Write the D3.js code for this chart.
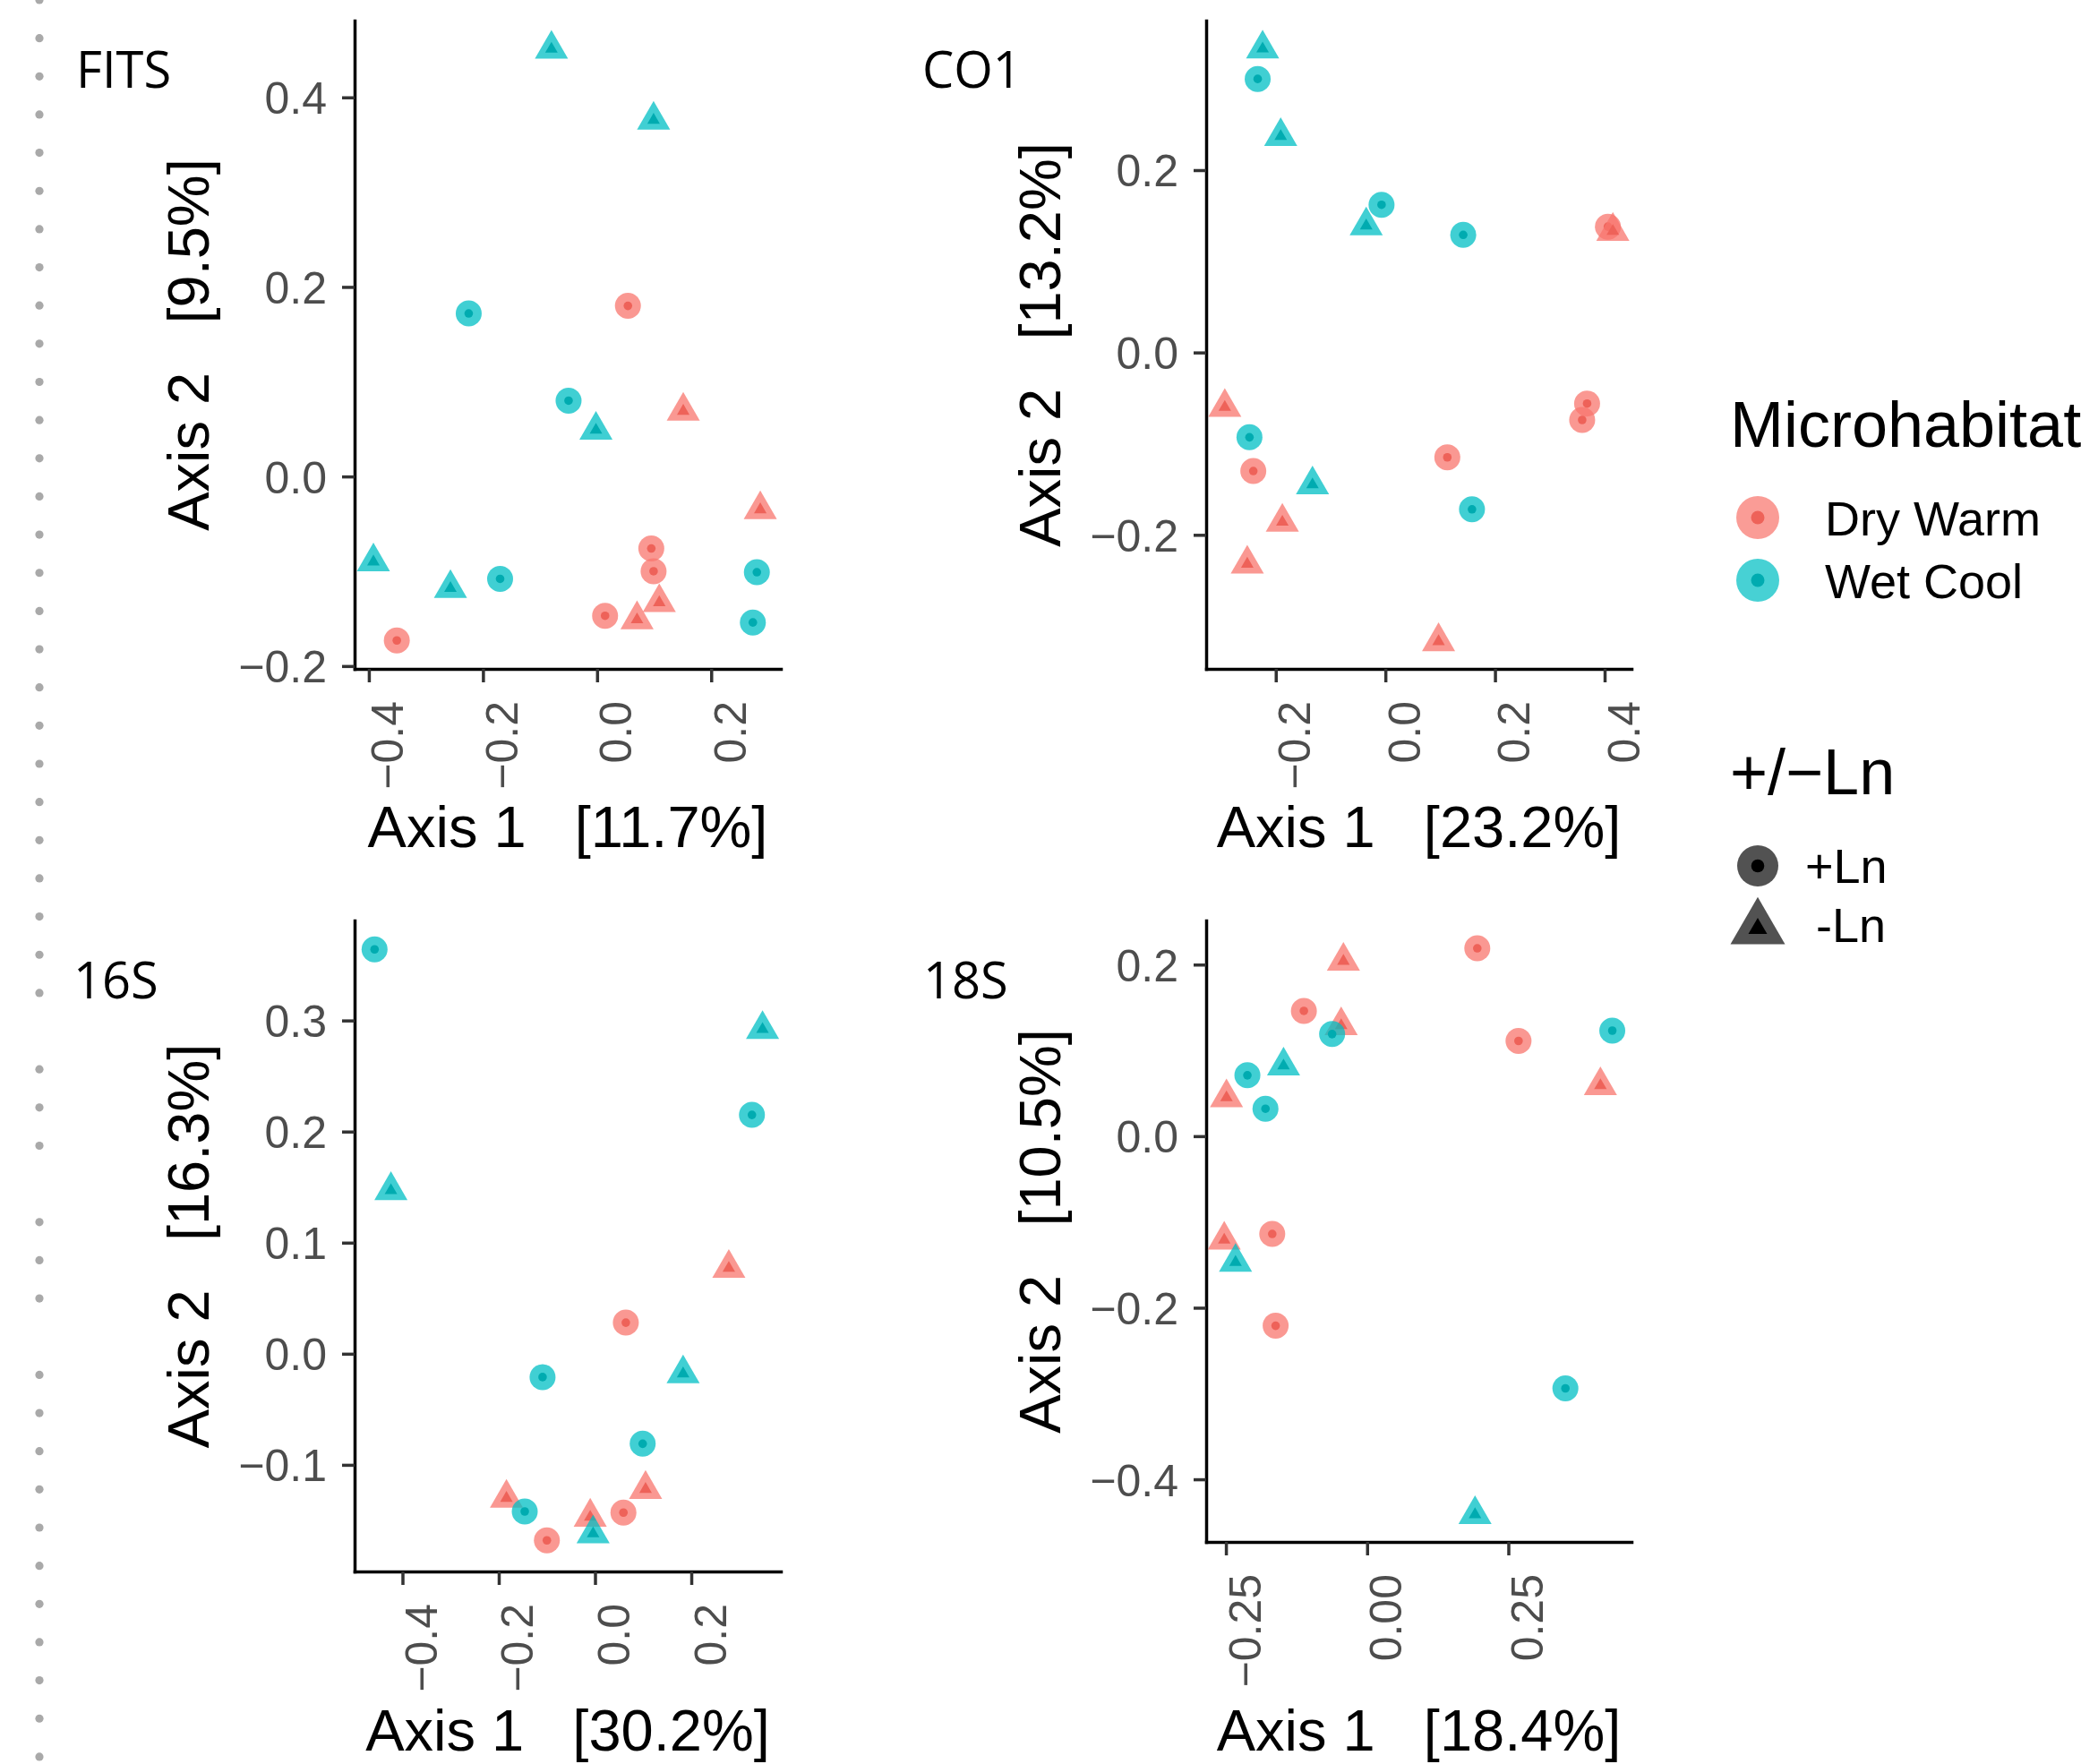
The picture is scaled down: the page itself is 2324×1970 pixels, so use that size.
<!DOCTYPE html>
<meta charset="utf-8">
<script src="https://d3js.org/d3.v7.min.js"></script>
<style>
  body { margin: 0; background: #fff; }
  text { font-family: "Liberation Sans", Arial, Helvetica, sans-serif; }
  .ptitle { font-family: "Open Sans", "Noto Sans", sans-serif; }
</style>
<div id="my_dataviz"></div>
<script>

// each row: [Axis 1, Axis 2, Microhabitat, Ln]
var fitsPoints = [
  [-0.080, 0.451, "Wet Cool", "-Ln"],
  [0.099, 0.376, "Wet Cool", "-Ln"],
  [-0.225, 0.172, "Wet Cool", "+Ln"],
  [0.054, 0.180, "Dry Warm", "+Ln"],
  [-0.050, 0.080, "Wet Cool", "+Ln"],
  [-0.002, 0.049, "Wet Cool", "-Ln"],
  [0.151, 0.069, "Dry Warm", "-Ln"],
  [0.286, -0.035, "Dry Warm", "-Ln"],
  [-0.392, -0.090, "Wet Cool", "-Ln"],
  [-0.257, -0.118, "Wet Cool", "-Ln"],
  [-0.170, -0.108, "Wet Cool", "+Ln"],
  [-0.351, -0.173, "Dry Warm", "+Ln"],
  [0.095, -0.076, "Dry Warm", "+Ln"],
  [0.099, -0.100, "Dry Warm", "+Ln"],
  [0.014, -0.147, "Dry Warm", "+Ln"],
  [0.070, -0.151, "Dry Warm", "-Ln"],
  [0.109, -0.133, "Dry Warm", "-Ln"],
  [0.280, -0.101, "Wet Cool", "+Ln"],
  [0.273, -0.154, "Wet Cool", "+Ln"]
]

var co1Points = [
  [-0.224, 0.333, "Wet Cool", "-Ln"],
  [-0.233, 0.300, "Wet Cool", "+Ln"],
  [-0.191, 0.237, "Wet Cool", "-Ln"],
  [-0.007, 0.162, "Wet Cool", "+Ln"],
  [-0.035, 0.139, "Wet Cool", "-Ln"],
  [0.142, 0.129, "Wet Cool", "+Ln"],
  [0.406, 0.138, "Dry Warm", "+Ln"],
  [0.415, 0.133, "Dry Warm", "-Ln"],
  [-0.293, -0.060, "Dry Warm", "-Ln"],
  [-0.248, -0.093, "Wet Cool", "+Ln"],
  [-0.241, -0.130, "Dry Warm", "+Ln"],
  [-0.133, -0.145, "Wet Cool", "-Ln"],
  [-0.188, -0.186, "Dry Warm", "-Ln"],
  [-0.252, -0.232, "Dry Warm", "-Ln"],
  [0.113, -0.115, "Dry Warm", "+Ln"],
  [0.158, -0.172, "Wet Cool", "+Ln"],
  [0.368, -0.056, "Dry Warm", "+Ln"],
  [0.359, -0.074, "Dry Warm", "+Ln"],
  [0.097, -0.317, "Dry Warm", "-Ln"]
]

var s16Points = [
  [-0.458, 0.364, "Wet Cool", "+Ln"],
  [-0.424, 0.147, "Wet Cool", "-Ln"],
  [0.348, 0.292, "Wet Cool", "-Ln"],
  [0.326, 0.215, "Wet Cool", "+Ln"],
  [0.278, 0.077, "Dry Warm", "-Ln"],
  [0.064, 0.028, "Dry Warm", "+Ln"],
  [0.183, -0.018, "Wet Cool", "-Ln"],
  [-0.109, -0.021, "Wet Cool", "+Ln"],
  [0.099, -0.081, "Wet Cool", "+Ln"],
  [0.105, -0.122, "Dry Warm", "-Ln"],
  [-0.184, -0.130, "Dry Warm", "-Ln"],
  [-0.146, -0.142, "Wet Cool", "+Ln"],
  [-0.100, -0.168, "Dry Warm", "+Ln"],
  [-0.010, -0.147, "Dry Warm", "-Ln"],
  [-0.004, -0.162, "Wet Cool", "-Ln"],
  [0.059, -0.143, "Dry Warm", "+Ln"]
]

var s18Points = [
  [0.195, 0.219, "Dry Warm", "+Ln"],
  [-0.042, 0.204, "Dry Warm", "-Ln"],
  [-0.112, 0.146, "Dry Warm", "+Ln"],
  [-0.046, 0.129, "Dry Warm", "-Ln"],
  [-0.062, 0.119, "Wet Cool", "+Ln"],
  [0.268, 0.111, "Dry Warm", "+Ln"],
  [0.434, 0.123, "Wet Cool", "+Ln"],
  [0.413, 0.059, "Dry Warm", "-Ln"],
  [-0.148, 0.082, "Wet Cool", "-Ln"],
  [-0.212, 0.071, "Wet Cool", "+Ln"],
  [-0.249, 0.045, "Dry Warm", "-Ln"],
  [-0.180, 0.032, "Wet Cool", "+Ln"],
  [-0.253, -0.121, "Dry Warm", "-Ln"],
  [-0.168, -0.114, "Dry Warm", "+Ln"],
  [-0.233, -0.147, "Wet Cool", "-Ln"],
  [-0.162, -0.221, "Dry Warm", "+Ln"],
  [0.351, -0.294, "Wet Cool", "+Ln"],
  [0.191, -0.441, "Wet Cool", "-Ln"]
]

// axis limits and ticks
var fitsX = [-0.425, 0.322], fitsY = [-0.203, 0.481]
var co1X = [-0.327, 0.449], co1Y = [-0.347, 0.364]
var s16X = [-0.4995, 0.386], s16Y = [-0.196, 0.390]
var s18X = [-0.285, 0.468], s18Y = [-0.473, 0.2514]

var fitsXTicks = [-0.4, -0.2, 0, 0.2], fitsYTicks = [-0.2, 0, 0.2, 0.4]
var co1XTicks = [-0.2, 0, 0.2, 0.4], co1YTicks = [-0.2, 0, 0.2]
var s16XTicks = [-0.4, -0.2, 0, 0.2], s16YTicks = [-0.1, 0, 0.1, 0.2, 0.3]
var s18XTicks = [-0.25, 0, 0.25], s18YTicks = [-0.4, -0.2, 0, 0.2]

var axis1Pct = ["11.7%", "23.2%", "30.2%", "18.4%"]
var axis2Pct = ["9.5%", "13.2%", "16.3%", "10.5%"]
var panelNames = ["FITS", "CO1", "16S", "18S"]

var habitats = ["Dry Warm", "Wet Cool"]
var lnGroups = ["+Ln", "-Ln"]
var colors = ["#F8766D", "#00BFC4"]
var centerColors = ["#EE6259", "#00ABB0"]

var W = 2324, H = 1970

var svg = d3.select("#my_dataviz")
  .append("svg")
  .attr("width", W)
  .attr("height", H)

var color = d3.scaleOrdinal().domain(habitats).range(colors)
var centerColor = d3.scaleOrdinal().domain(habitats).range(centerColors)

// decorative dotted border on the left (from the pasted slide)
var dotGaps = [27, 31, 35]
svg.append("g").selectAll("circle")
  .data(d3.range(0, 47).filter(k => dotGaps.indexOf(k) < 0))
  .enter().append("circle")
  .attr("cx", 44)
  .attr("cy", k => k * 42.65)
  .attr("r", 4.6)
  .style("fill", "#a9a9a9")

// circle: size = radius, triangle: size = side length
function shapePath(ln, size) {
  if (ln == "+Ln") {
    return d3.symbol().type(d3.symbolCircle).size(Math.PI * size * size)()
  }
  return d3.symbol().type(d3.symbolTriangle).size(Math.sqrt(3) / 4 * size * size)()
}

var panels = [
  {pts: fitsPoints, xd: fitsX, yd: fitsY, xt: fitsXTicks, yt: fitsYTicks, xfmt: ".1f", yfmt: ".1f",
   left: 396, right: 872, top: 23, bottom: 747, xlabY: 946, tx: 85, ty: 98},
  {pts: co1Points, xd: co1X, yd: co1Y, xt: co1XTicks, yt: co1YTicks, xfmt: ".1f", yfmt: ".1f",
   left: 1347, right: 1822, top: 23, bottom: 747, xlabY: 946, tx: 1030, ty: 98},
  {pts: s16Points, xd: s16X, yd: s16Y, xt: s16XTicks, yt: s16YTicks, xfmt: ".1f", yfmt: ".1f",
   left: 396, right: 872, top: 1028, bottom: 1755, xlabY: 1955, tx: 82, ty: 1115},
  {pts: s18Points, xd: s18X, yd: s18Y, xt: s18XTicks, yt: s18YTicks, xfmt: ".2f", yfmt: ".1f",
   left: 1347, right: 1822, top: 1028, bottom: 1722, xlabY: 1955, tx: 1031, ty: 1115}
]

panels.forEach(function(p, i) {
  var g = svg.append("g")

  var x = d3.scaleLinear().domain(p.xd).range([p.left, p.right])
  var y = d3.scaleLinear().domain(p.yd).range([p.bottom, p.top])

  // X axis
  var gx = g.append("g")
    .attr("transform", "translate(0," + p.bottom + ")")
    .call(d3.axisBottom(x).tickValues(p.xt).tickFormat(d3.format(p.xfmt)).tickSize(15).tickSizeOuter(0))
  gx.selectAll(".tick text")
    .attr("transform", "rotate(-90)")
    .attr("x", -36)
    .attr("y", 38)
    .attr("dy", null)
    .attr("text-anchor", "end")

  // Y axis
  var gy = g.append("g")
    .attr("transform", "translate(" + p.left + ",0)")
    .call(d3.axisLeft(y).tickValues(p.yt).tickFormat(d3.format(p.yfmt)).tickSize(14).tickPadding(17).tickSizeOuter(0))
  gy.selectAll(".tick text").attr("dy", "0.36em")

  g.selectAll(".domain").attr("stroke", "#000").attr("stroke-width", 3.5).attr("stroke-linecap", "square")
  g.selectAll(".tick line").attr("stroke", "#333").attr("stroke-width", 3.5)
  g.selectAll(".tick text").style("font-size", "50px").attr("fill", "#4D4D4D")
    .style("font-family", '"Liberation Sans", Arial, sans-serif')

  // axis titles
  g.append("text")
    .attr("x", (p.left + p.right) / 2)
    .attr("y", p.xlabY)
    .attr("text-anchor", "middle")
    .style("font-size", "65px")
    .style("white-space", "pre")
    .text("Axis 1   [" + axis1Pct[i] + "]")

  g.append("text")
    .attr("transform", "translate(" + (p.left - 163) + "," + ((p.top + p.bottom) / 2) + ") rotate(-90)")
    .attr("text-anchor", "middle")
    .style("font-size", "65px")
    .style("white-space", "pre")
    .text("Axis 2   [" + axis2Pct[i] + "]")

  // panel name
  g.append("text")
    .attr("class", "ptitle")
    .attr("x", p.tx)
    .attr("y", p.ty)
    .style("font-size", "56px")
    .text(panelNames[i])

  // points: dry warm first so wet cool sits on top
  var ordered = p.pts.slice().sort((a, b) => habitats.indexOf(a[2]) - habitats.indexOf(b[2]))
  var pg = g.append("g").selectAll("g")
    .data(ordered)
    .enter().append("g")
    .attr("transform", d => "translate(" + x(d[0]) + "," + y(d[1]) + ")")
  pg.append("path")
    .attr("d", d => d[3] == "+Ln" ? shapePath("+Ln", 14.5) : shapePath("-Ln", 37))
    .style("fill", d => color(d[2]))
    .style("opacity", 0.75)
  pg.append("path")
    .attr("d", d => d[3] == "+Ln" ? shapePath("+Ln", 4.8) : shapePath("-Ln", 14))
    .style("fill", d => centerColor(d[2]))
})

// Legend: Microhabitat
var leg = svg.append("g")
leg.append("text").attr("x", 1932).attr("y", 499).style("font-size", "72px").text("Microhabitat")
var li = leg.selectAll(".hab").data(habitats).enter().append("g")
  .attr("transform", (d, i) => "translate(1963," + (578 + i * 70) + ")")
li.append("path").attr("d", shapePath("+Ln", 24)).style("fill", d => color(d)).style("opacity", 0.72)
li.append("path").attr("d", shapePath("+Ln", 7.5)).style("fill", d => centerColor(d))
li.append("text").attr("x", 75).attr("y", 20).style("font-size", "54px").text(d => d)

// Legend: +/-Ln
leg.append("text").attr("x", 1932).attr("y", 887).style("font-size", "72px").text("+/\u2212Ln")
var si = leg.selectAll(".ln").data(lnGroups).enter().append("g")
  .attr("transform", (d, i) => "translate(1963," + (967 + i * 70) + ")")
si.append("path").attr("d", d => d == "+Ln" ? shapePath(d, 23) : shapePath(d, 61))
  .style("fill", "#000").style("opacity", 0.68)
si.append("path").attr("d", d => d == "+Ln" ? shapePath(d, 7.3) : shapePath(d, 21))
  .style("fill", "#000")
si.append("text").attr("x", d => d == "+Ln" ? 53 : 65).attr("y", d => d == "+Ln" ? 19 : 15)
  .style("font-size", "54px").text(d => d)

</script>
